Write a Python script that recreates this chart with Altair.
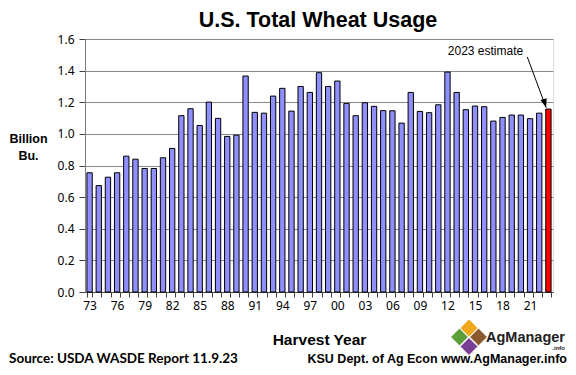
import altair as alt
import pandas as pd

# ---- data ----
years = [str(y) for y in range(1973, 2024)]
usage = [
    0.754, 0.673, 0.726, 0.754, 0.859, 0.840, 0.781, 0.781, 0.849, 0.908,   # 73-82
    1.115, 1.159, 1.053, 1.201, 1.098, 0.984, 0.992, 1.366, 1.136, 1.131,   # 83-92
    1.239, 1.288, 1.144, 1.300, 1.262, 1.387, 1.300, 1.334, 1.193, 1.115,   # 93-02
    1.197, 1.174, 1.147, 1.146, 1.068, 1.262, 1.142, 1.134, 1.184, 1.391,   # 03-12
    1.262, 1.153, 1.176, 1.172, 1.081, 1.104, 1.119, 1.119, 1.096, 1.131,   # 13-22
    1.157,                                                                   # 23 estimate
]
status = ["Actual"] * 50 + ["Estimate"]
y_ticks = [0.0, 0.2, 0.4, 0.6, 0.8, 1.0, 1.2, 1.4, 1.6]

note_label = ["2023 estimate"]
note_year = [2020.25]
note_value = [1.524]
arrow_from_year = [2020.7]
arrow_from_value = [1.486]
arrow_to_year = [2022.75]
arrow_to_value = [1.166]

df = pd.DataFrame({"year": years, "usage": usage, "status": status})
note_df = pd.DataFrame({"label": note_label, "x": note_year, "y": note_value})
arrow_df = pd.DataFrame({"x": arrow_from_year, "y": arrow_from_value,
                         "x2": arrow_to_year, "y2": arrow_to_value})
head_df = pd.DataFrame({"x": arrow_to_year, "y": arrow_to_value})

W, H = 468, 253
FONT = "Liberation Sans"
yscale = alt.Scale(domain=[0, 1.6], nice=False, zero=True)
qx = alt.Scale(domain=[1972.5, 2023.5], nice=False, zero=False)

y_axis = alt.Axis(
    values=y_ticks, format=".1f", grid=True, gridColor="#8a8a8a",
    domainColor="#808080", tickColor="#404040", tickSize=6,
    labelFont="Noto Sans", labelFontSize=12, labelColor="black",
    labelPadding=5, labelOverlap=False,
    title=["Billion", "Bu."], titleAngle=0, titleAlign="center",
    titleBaseline="alphabetic", titleX=-57, titleY=103,
    titleFont=FONT, titleFontSize=12.5, titleFontWeight="bold",
    titleColor="black", titleLineHeight=17,
)

bars = alt.Chart(df).mark_bar(stroke="black", strokeWidth=1).encode(
    x=alt.X(
        "year:O", sort=None,
        scale=alt.Scale(paddingInner=0.42, paddingOuter=0.21),
        axis=alt.Axis(
            title="Harvest Year", labelAngle=0, tickBand="extent",
            labelExpr="(toNumber(datum.value) - 1973) % 3 == 0 ? substring(datum.value, 2, 4) : ''",
            labelFont="Noto Sans", labelFontSize=12, labelColor="black",
            labelPadding=3, tickSize=5, tickColor="#404040",
            domainColor="#404040", labelOverlap=False, labelBaseline="top",
            titleFont=FONT, titleFontSize=15.5, titleFontWeight="bold",
            titleColor="black", titleBaseline="alphabetic", titleY=52,
        ),
    ),
    y=alt.Y("usage:Q", scale=yscale, axis=y_axis),
    color=alt.Color("status:N",
                    scale=alt.Scale(domain=["Actual", "Estimate"],
                                    range=["#8f8fff", "#ff0000"]),
                    legend=None),
)

note = alt.Chart(note_df).mark_text(
    align="right", baseline="middle", font=FONT, fontSize=12, color="black"
).encode(
    x=alt.X("x:Q", scale=qx, axis=None),
    y=alt.Y("y:Q", scale=yscale, axis=y_axis),
    text="label:N",
)

arrow = alt.Chart(arrow_df).mark_rule(color="black", strokeWidth=1).encode(
    x=alt.X("x:Q", scale=qx, axis=None),
    x2="x2:Q",
    y=alt.Y("y:Q", scale=yscale, axis=y_axis),
    y2="y2:Q",
)

head = alt.Chart(head_df).mark_point(
    shape="M0,0L-0.8,-2.2L0.8,-2.2Z", filled=True, color="black",
    size=64, angle=343.6, opacity=1,
).encode(
    x=alt.X("x:Q", scale=qx, axis=None),
    y=alt.Y("y:Q", scale=yscale, axis=y_axis),
)

# free texts (positions relative to the plot area)
def text_layer(txt, x, y, align, size, weight="bold", font=FONT, color="black"):
    return alt.Chart(pd.DataFrame({"t": [txt]})).mark_text(
        align=align, baseline="alphabetic", font=font, fontSize=size,
        fontWeight=weight, color=color,
    ).encode(x=alt.value(x), y=alt.value(y), text="t:N")

title = text_layer("U.S. Total Wheat Usage", 233, -12, "center", 21.5)
source = text_layer("Source:  USDA WASDE Report 11.9.23", -76, 324, "left", 13.5, font="Lato")
ksu = text_layer("KSU Dept. of Ag Econ www.AgManager.info", 482, 324, "right", 12.5)
ag = text_layer("AgManager", 480, 303, "right", 14.5, color="#222222")
info = text_layer(".info", 480, 311, "right", 6, color="#222222")

def diamond(x, y, color):
    return alt.Chart(pd.DataFrame({"d": [0]})).mark_point(
        shape="diamond", filled=True, opacity=1, stroke="white", strokeWidth=1
    ).encode(x=alt.value(x), y=alt.value(y), size=alt.value(320), color=alt.value(color))

logo = (diamond(384, 289, "#f2a81d") + diamond(374.5, 298, "#5e9e3a")
        + diamond(393.5, 298, "#8a5a2e") + diamond(384, 307.5, "#7a3d96"))

chart = alt.layer(
    bars, arrow, head, note, title, source, ksu, ag, info, logo
).resolve_scale(x="independent").properties(
    width=W, height=H,
    autosize=alt.AutoSizeParams(type="none"),
    padding={"left": 77, "top": 31, "right": 15, "bottom": 75},
).configure_view(stroke="#808080", strokeWidth=1).configure(background="white")

chart.save("out.html", embed_options={"renderer": "svg", "actions": False})
